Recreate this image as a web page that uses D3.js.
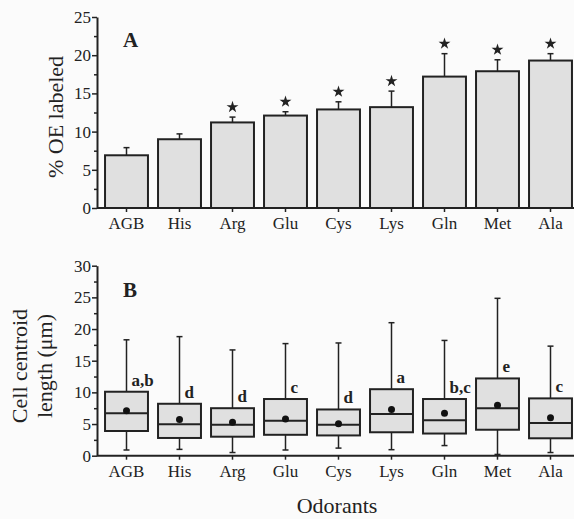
<!DOCTYPE html>
<html lang="en">
<head>
  <meta charset="UTF-8">
  <title>Odorant labeling and centroid length</title>
  <script src="https://d3js.org/d3.v7.min.js"></script>
  <style>
    body { margin: 0; background: #fbfbfb; }
    svg { display: block; }
    .axis path, .axis line { stroke: #222; }
  </style>
</head>
<body>
<div id="chart"></div>
<script>
// categories
const odorants = ["AGB", "His", "Arg", "Glu", "Cys", "Lys", "Gln", "Met", "Ala"];

// panel A: % OE labeled, mean and top of error bar
const pctMean = [6.9, 9.0, 11.2, 12.1, 12.9, 13.2, 17.2, 17.9, 19.3];
const pctErr  = [7.9, 9.7, 11.9, 12.6, 13.9, 15.3, 20.2, 19.4, 20.2];
const starred = [false, false, true, true, true, true, true, true, true];

// panel B: cell centroid length box plots
const whiskLo = [0.9, 1.0, 0.5, 0.9, 1.2, 0.95, 1.6, 0.2, 0.5];
const q1      = [3.9, 2.8, 3.0, 3.3, 3.2, 3.7, 3.5, 4.1, 2.75];
const median  = [6.7, 4.95, 4.9, 5.5, 4.9, 6.6, 5.6, 7.5, 5.15];
const mean    = [7.1, 5.7, 5.3, 5.8, 5.05, 7.3, 6.7, 7.95, 6.0];
const q3      = [10.1, 8.2, 7.5, 8.95, 7.3, 10.5, 8.95, 12.2, 9.05];
const whiskHi = [18.3, 18.8, 16.7, 17.7, 17.8, 21.0, 18.2, 24.85, 17.3];
const groups  = ["a,b", "d", "d", "c", "d", "a", "b,c", "e", "c"];

const W = 574, H = 519;
const ink = "#222";
const fillGray = "#e0e0e0";
const serif = "'Liberation Serif', 'Times New Roman', serif";

const svg = d3.select("#chart").append("svg")
  .attr("width", W).attr("height", H)
  .attr("font-family", serif);

const x = d3.scaleBand()
  .domain(odorants)
  .range([100, 577])
  .paddingInner(0.19)
  .paddingOuter(0.095);

const axisLeftX = 97;
const cx = d => x(d) + x.bandwidth() / 2;

function styleAxis(g) {
  g.attr("font-family", serif).attr("font-size", 17);
  g.selectAll("text").attr("fill", ink);
  g.selectAll("line").attr("stroke-width", 1.5);
}

function leftAxis(y, max) {
  // minor ticks
  svg.append("g").attr("class", "axis")
    .attr("transform", `translate(${axisLeftX},0)`)
    .call(d3.axisLeft(y).tickValues(d3.range(2.5, max, 5)).tickSize(3).tickFormat(""))
    .call(g => g.select(".domain").remove())
    .call(styleAxis);
  svg.append("g").attr("class", "axis")
    .attr("transform", `translate(${axisLeftX},0)`)
    .call(d3.axisLeft(y).tickValues(d3.range(0, max + 1, 5)).tickSize(5).tickSizeOuter(0).tickPadding(1))
    .call(g => g.select(".domain").attr("stroke-width", 2))
    .call(styleAxis);
}

function bottomAxis(y) {
  svg.append("g").attr("class", "axis")
    .attr("transform", `translate(0,${y(0)})`)
    .call(d3.axisBottom(x).tickSize(4).tickSizeOuter(0).tickPadding(5))
    .call(g => g.select(".domain").attr("d", `M${axisLeftX},0H${W}`).attr("stroke-width", 2))
    .call(styleAxis);
}

// ---------- panel A ----------
const yA = d3.scaleLinear().domain([0, 25]).range([208, 17]);
leftAxis(yA, 25);

const barsA = svg.append("g");
barsA.selectAll("rect")
  .data(odorants)
  .join("rect")
  .attr("x", d => x(d))
  .attr("y", (d, i) => yA(pctMean[i]))
  .attr("width", x.bandwidth())
  .attr("height", (d, i) => yA(0) - yA(pctMean[i]))
  .attr("fill", fillGray)
  .attr("stroke", ink)
  .attr("stroke-width", 2);

// error bars
barsA.selectAll(".err")
  .data(odorants)
  .join("line")
  .attr("class", "err")
  .attr("x1", cx).attr("x2", cx)
  .attr("y1", (d, i) => yA(pctMean[i]))
  .attr("y2", (d, i) => yA(pctErr[i]))
  .attr("stroke", ink).attr("stroke-width", 1.5);

barsA.selectAll(".cap")
  .data(odorants)
  .join("line")
  .attr("class", "cap")
  .attr("x1", d => cx(d) - 3).attr("x2", d => cx(d) + 3)
  .attr("y1", (d, i) => yA(pctErr[i]))
  .attr("y2", (d, i) => yA(pctErr[i]))
  .attr("stroke", ink).attr("stroke-width", 1.5);

const star = d3.symbol(d3.symbolStar).size(44);
barsA.selectAll(".star")
  .data(odorants.filter((d, i) => starred[i]))
  .join("path")
  .attr("class", "star")
  .attr("d", star)
  .attr("transform", d => `translate(${cx(d)},${yA(pctErr[odorants.indexOf(d)]) - 10})`)
  .attr("fill", ink);

bottomAxis(yA);

svg.append("text")
  .attr("x", 123).attr("y", 47)
  .attr("font-size", 21).attr("font-weight", "bold").attr("fill", ink)
  .text("A");

svg.append("text")
  .attr("transform", "translate(63,117) rotate(-90)")
  .attr("text-anchor", "middle")
  .attr("font-size", 22).attr("fill", ink)
  .text("% OE labeled");

// ---------- panel B ----------
const yB = d3.scaleLinear().domain([0, 30]).range([455.7, 265.7]);
leftAxis(yB, 30);

const boxes = svg.append("g");

// whiskers
boxes.selectAll(".whisk")
  .data(odorants)
  .join("line")
  .attr("class", "whisk")
  .attr("x1", cx).attr("x2", cx)
  .attr("y1", (d, i) => yB(whiskLo[i]))
  .attr("y2", (d, i) => yB(whiskHi[i]))
  .attr("stroke", ink).attr("stroke-width", 1.5);

boxes.selectAll(".capHi")
  .data(odorants)
  .join("line")
  .attr("class", "capHi")
  .attr("x1", d => cx(d) - 3).attr("x2", d => cx(d) + 3)
  .attr("y1", (d, i) => yB(whiskHi[i]))
  .attr("y2", (d, i) => yB(whiskHi[i]))
  .attr("stroke", ink).attr("stroke-width", 1.5);

boxes.selectAll(".capLo")
  .data(odorants)
  .join("line")
  .attr("class", "capLo")
  .attr("x1", d => cx(d) - 3).attr("x2", d => cx(d) + 3)
  .attr("y1", (d, i) => yB(whiskLo[i]))
  .attr("y2", (d, i) => yB(whiskLo[i]))
  .attr("stroke", ink).attr("stroke-width", 1.5);

boxes.selectAll(".box")
  .data(odorants)
  .join("rect")
  .attr("class", "box")
  .attr("x", d => x(d))
  .attr("y", (d, i) => yB(q3[i]))
  .attr("width", x.bandwidth())
  .attr("height", (d, i) => yB(q1[i]) - yB(q3[i]))
  .attr("fill", fillGray)
  .attr("stroke", ink)
  .attr("stroke-width", 2);

boxes.selectAll(".med")
  .data(odorants)
  .join("line")
  .attr("class", "med")
  .attr("x1", d => x(d)).attr("x2", d => x(d) + x.bandwidth())
  .attr("y1", (d, i) => yB(median[i]))
  .attr("y2", (d, i) => yB(median[i]))
  .attr("stroke", ink).attr("stroke-width", 2);

boxes.selectAll(".mean")
  .data(odorants)
  .join("circle")
  .attr("class", "mean")
  .attr("cx", cx)
  .attr("cy", (d, i) => yB(mean[i]))
  .attr("r", 3.5)
  .attr("fill", "#111");

boxes.selectAll(".grp")
  .data(odorants)
  .join("text")
  .attr("class", "grp")
  .attr("x", d => cx(d) + 5)
  .attr("y", (d, i) => yB(q3[i]) - 6)
  .attr("font-size", 17).attr("font-weight", "bold").attr("fill", ink)
  .text((d, i) => groups[i]);

bottomAxis(yB);

svg.append("text")
  .attr("x", 123).attr("y", 297)
  .attr("font-size", 21).attr("font-weight", "bold").attr("fill", ink)
  .text("B");

svg.append("text")
  .attr("transform", "translate(27,366) rotate(-90)")
  .attr("text-anchor", "middle")
  .attr("font-size", 22).attr("fill", ink)
  .text("Cell centroid");

svg.append("text")
  .attr("transform", "translate(52,366) rotate(-90)")
  .attr("text-anchor", "middle")
  .attr("font-size", 22).attr("fill", ink)
  .text("length (\u03bcm)");

svg.append("text")
  .attr("x", 337).attr("y", 513)
  .attr("text-anchor", "middle")
  .attr("font-size", 22).attr("fill", ink)
  .text("Odorants");
</script>
</body>
</html>
